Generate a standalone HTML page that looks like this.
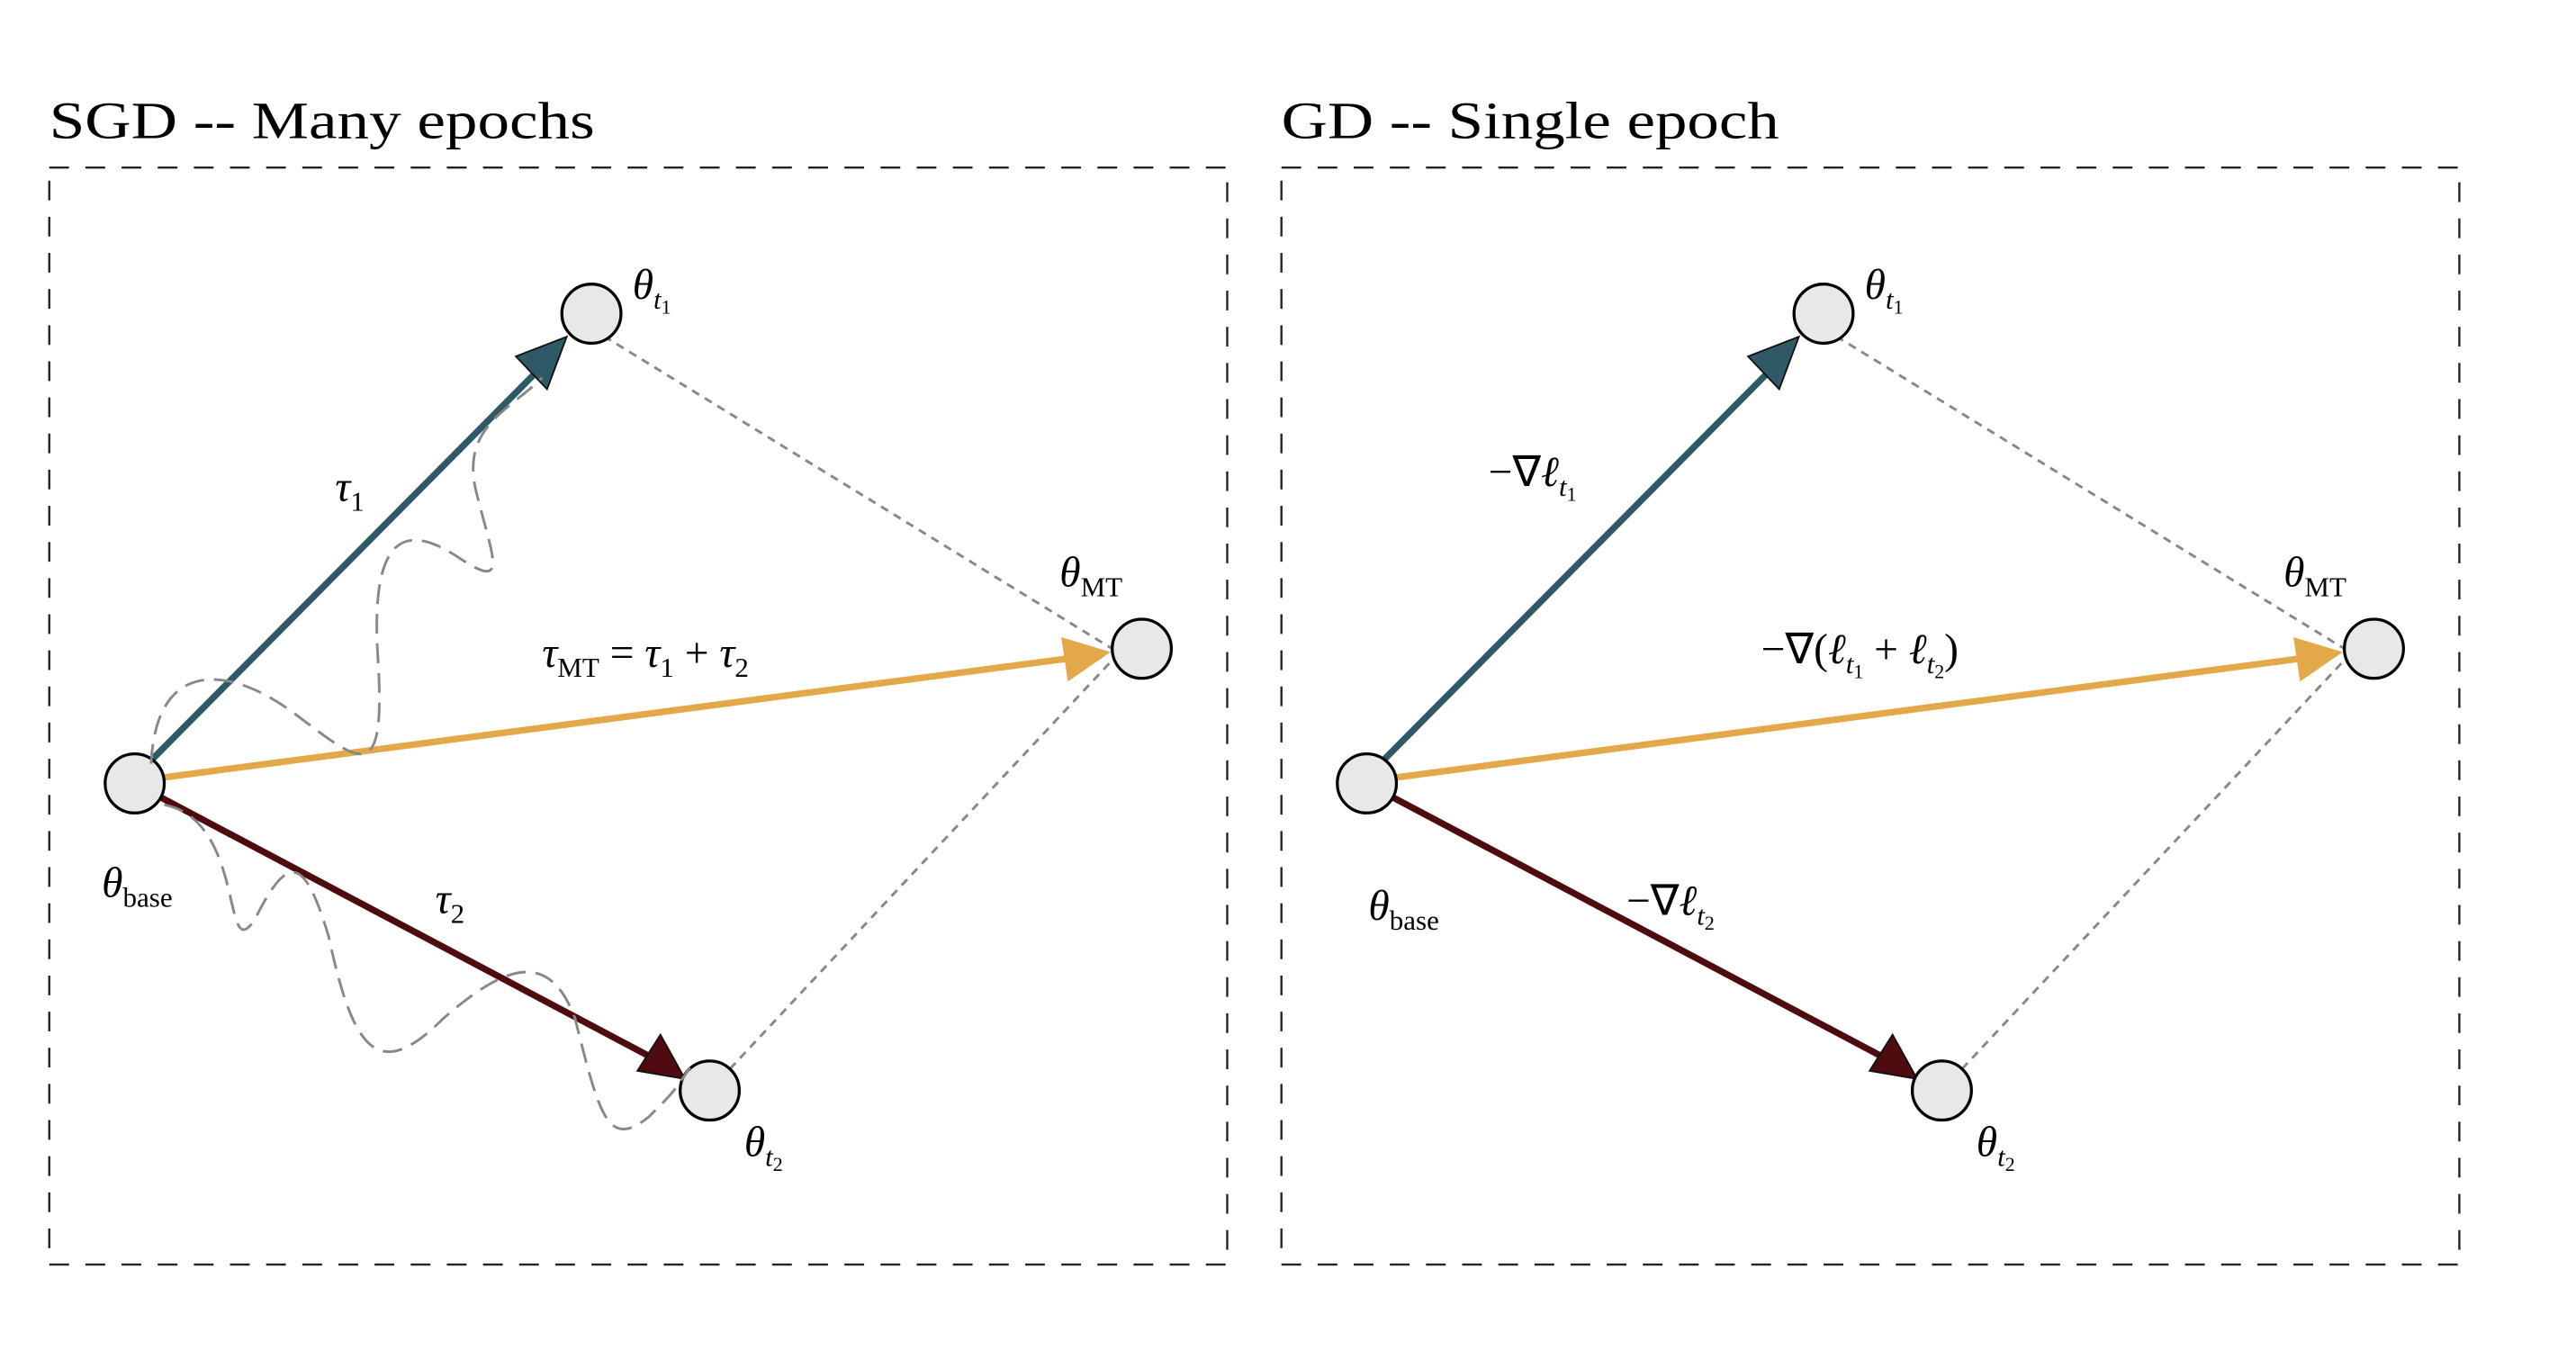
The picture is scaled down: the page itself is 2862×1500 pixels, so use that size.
<!DOCTYPE html>
<html><head><meta charset="utf-8"><style>
html,body{margin:0;padding:0;background:#fff;}
svg{display:block;}
text{font-family:"Liberation Serif",serif;fill:#000;}
.m{font-style:italic;}
</style></head><body>
<svg width="2862" height="1500" viewBox="0 0 1568 822" preserveAspectRatio="none" xmlns="http://www.w3.org/2000/svg">
<text x="30" y="84" font-size="32" textLength="332" lengthAdjust="spacingAndGlyphs">SGD -- Many epochs</text>
<text x="780" y="84" font-size="32" textLength="303" lengthAdjust="spacingAndGlyphs">GD -- Single epoch</text>
<rect x="30" y="102" width="717" height="668" fill="none" stroke="#222" stroke-width="1.3" stroke-dasharray="12,10"/>
<rect x="780" y="102" width="717" height="668" fill="none" stroke="#222" stroke-width="1.3" stroke-dasharray="12,10"/>

<g id="panel">
<line x1="360" y1="200" x2="677" y2="395" stroke="#888" stroke-width="1.6" stroke-dasharray="5,4"/>
<line x1="432" y1="664" x2="677" y2="402" stroke="#888" stroke-width="1.6" stroke-dasharray="5,4"/>
<line x1="90" y1="465" x2="328" y2="225" stroke="#2f5966" stroke-width="4"/>
<polygon points="345,205 314,217 333,237" fill="#2f5966" stroke="#111" stroke-width="1"/>
<line x1="95" y1="474" x2="650" y2="401" stroke="#e3a84a" stroke-width="4"/>
<polygon points="676,397 646,388 650,415" fill="#e3a84a"/>
<line x1="95" y1="484" x2="395" y2="643" stroke="#4f0c10" stroke-width="4"/>
<polygon points="417,657 388,652 402,630" fill="#4f0c10" stroke="#111" stroke-width="1"/>
<g fill="#e8e8e8" stroke="#000" stroke-width="1.8">
<circle cx="82" cy="477" r="18"/>
<circle cx="360" cy="191" r="18"/>
<circle cx="695" cy="395" r="18"/>
<circle cx="432" cy="664" r="18"/>
</g>
</g>
<use href="#panel" x="750" y="0"/>

<path d="M92,465 C95,400 140,405 180,435 C220,465 235,480 230,400 C225,320 250,320 280,340 C310,360 300,340 290,300 C280,260 310,250 330,230" fill="none" stroke="#888" stroke-width="1.6" stroke-dasharray="12,6"/>
<path d="M100,490 C150,500 135,590 155,560 C175,520 185,520 200,570 C215,640 230,660 270,620 C310,585 335,580 350,620 C365,680 370,700 395,680 C410,665 410,665 420,650" fill="none" stroke="#888" stroke-width="1.6" stroke-dasharray="12,6"/>

<text x="385" y="182" font-size="26" class="m">θ<tspan font-size="17" dy="6">t</tspan><tspan font-size="12" dy="3" font-style="normal">1</tspan></text>
<text x="204" y="305" font-size="26" class="m">τ<tspan font-size="17" dy="6" font-style="normal">1</tspan></text>
<text x="645" y="357" font-size="26" class="m">θ<tspan font-size="17" dy="6" font-style="normal">MT</tspan></text>
<text x="330" y="406" font-size="26" class="m">τ<tspan font-size="17" dy="6" font-style="normal">MT</tspan><tspan dy="-6" font-style="normal"> = </tspan>τ<tspan font-size="17" dy="6" font-style="normal">1</tspan><tspan dy="-6" font-style="normal"> + </tspan>τ<tspan font-size="17" dy="6" font-style="normal">2</tspan></text>
<text x="62" y="546" font-size="26" class="m">θ<tspan font-size="17" dy="6" font-style="normal">base</tspan></text>
<text x="265" y="556" font-size="26" class="m">τ<tspan font-size="17" dy="6" font-style="normal">2</tspan></text>
<text x="453" y="704" font-size="26" class="m">θ<tspan font-size="17" dy="6">t</tspan><tspan font-size="12" dy="3" font-style="normal">2</tspan></text>

<text x="1135" y="182" font-size="26" class="m">θ<tspan font-size="17" dy="6">t</tspan><tspan font-size="12" dy="3" font-style="normal">1</tspan></text>
<text x="906" y="296" font-size="26"><tspan>−∇</tspan><tspan class="m">ℓ</tspan><tspan class="m" font-size="17" dy="6">t</tspan><tspan font-size="12" dy="3">1</tspan></text>
<text x="1390" y="357" font-size="26" class="m">θ<tspan font-size="17" dy="6" font-style="normal">MT</tspan></text>
<text x="1072" y="404" font-size="26"><tspan>−∇(</tspan><tspan class="m">ℓ</tspan><tspan class="m" font-size="17" dy="6">t</tspan><tspan font-size="12" dy="3">1</tspan><tspan dy="-9"> + </tspan><tspan class="m">ℓ</tspan><tspan class="m" font-size="17" dy="6">t</tspan><tspan font-size="12" dy="3">2</tspan><tspan dy="-9">)</tspan></text>
<text x="833" y="560" font-size="26" class="m">θ<tspan font-size="17" dy="6" font-style="normal">base</tspan></text>
<text x="990" y="557" font-size="26"><tspan>−∇</tspan><tspan class="m">ℓ</tspan><tspan class="m" font-size="17" dy="6">t</tspan><tspan font-size="12" dy="3">2</tspan></text>
<text x="1203" y="704" font-size="26" class="m">θ<tspan font-size="17" dy="6">t</tspan><tspan font-size="12" dy="3" font-style="normal">2</tspan></text>
</svg>
</body></html>
